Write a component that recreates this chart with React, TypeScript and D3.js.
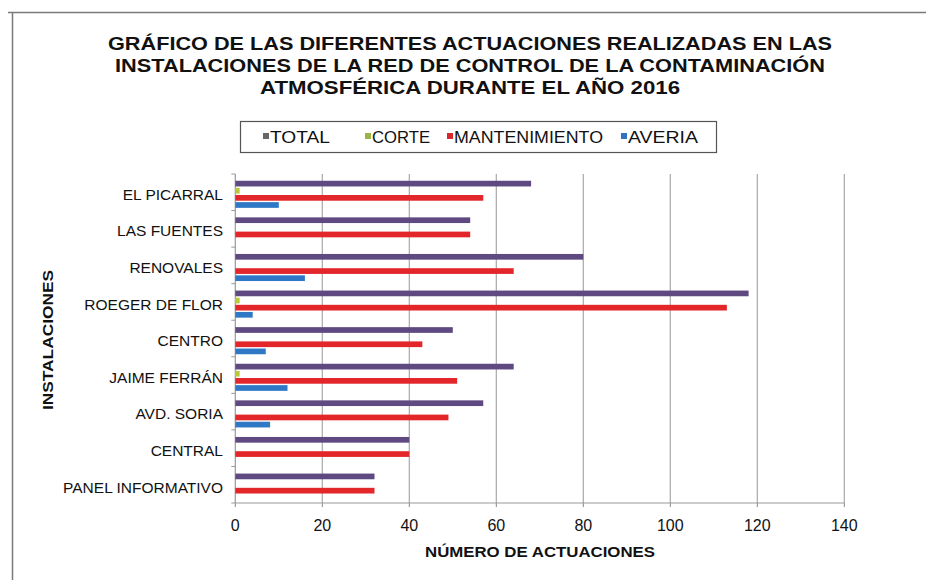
import React from "react";
import * as d3 from "d3";

const categories = [
  "EL PICARRAL",
  "LAS FUENTES",
  "RENOVALES",
  "ROEGER DE FLOR",
  "CENTRO",
  "JAIME FERRÁN",
  "AVD. SORIA",
  "CENTRAL",
  "PANEL INFORMATIVO",
];
const seriesNames = ["TOTAL", "CORTE", "MANTENIMIENTO", "AVERIA"];
const total = [68, 54, 80, 118, 50, 64, 57, 40, 32];
const corte = [1, 0, 0, 1, 0, 1, 0, 0, 0];
const mantenimiento = [57, 54, 64, 113, 43, 51, 49, 40, 32];
const averia = [10, 0, 16, 4, 7, 12, 8, 0, 0];
const xTicks = [0, 20, 40, 60, 80, 100, 120, 140];
const titleLines = [
  "GRÁFICO DE LAS DIFERENTES ACTUACIONES REALIZADAS EN LAS",
  "INSTALACIONES  DE LA RED DE CONTROL DE LA CONTAMINACIÓN",
  "ATMOSFÉRICA DURANTE EL AÑO 2016",
];
const titleWidths = [724, 710, 420];

const seriesValues = [total, corte, mantenimiento, averia];
const barColors = ["#5e4a80", "#b8c93a", "#e3262a", "#2e78c6"];
const legendColors = ["#666666", "#9bb347", "#d9262c", "#2e74c0"];

export default function App() {
  const W = 926;
  const H = 580;
  const plotTop = 174;
  const plotBottom = 503;
  const x = d3.scaleLinear().domain([0, 140]).range([235.3, 844.3]);
  const y = d3
    .scaleBand<string>()
    .domain(categories)
    .range([176, 505.4])
    .paddingInner(0.26)
    .paddingOuter(0.13);
  const ySub = d3
    .scaleBand<string>()
    .domain(seriesNames)
    .range([0, y.bandwidth()])
    .paddingInner(0.2);
  const font = "'Liberation Sans', Arial, sans-serif";
  const step = (plotBottom - plotTop) / categories.length;
  const legendItems = [
    { x: 270, w: 60 },
    { x: 372, w: 58 },
    { x: 454, w: 149 },
    { x: 628, w: 70 },
  ];

  return (
    <svg
      width={W}
      height={H}
      style={{ position: "absolute", left: 0, top: 0, background: "#fff" }}
      fontFamily={font}
    >
      <rect x={0} y={0} width={W} height={H} fill="#ffffff" />
      {/* frame */}
      <line x1={8} x2={W} y1={12.5} y2={12.5} stroke="#7a7a7a" strokeWidth={1.5} />
      <line x1={12.5} x2={12.5} y1={12} y2={H} stroke="#7a7a7a" strokeWidth={1.5} />

      {/* title */}
      {titleLines.map((t, i) => (
        <text
          key={i}
          x={470}
          y={50 + i * 22}
          textAnchor="middle"
          fontSize={18}
          fontWeight="bold"
          fill="#111"
          textLength={titleWidths[i]}
          lengthAdjust="spacingAndGlyphs"
        >
          {t}
        </text>
      ))}

      {/* legend */}
      <rect x={240.5} y={121.5} width={476} height={31} fill="#fff" stroke="#555" strokeWidth={1.2} />
      {seriesNames.map((s, i) => (
        <g key={s}>
          <rect x={legendItems[i].x - 7} y={133} width={6} height={6} fill={legendColors[i]} />
          <text
            x={legendItems[i].x}
            y={142.5}
            fontSize={16}
            fill="#111"
            textLength={legendItems[i].w}
            lengthAdjust="spacingAndGlyphs"
          >
            {s}
          </text>
        </g>
      ))}

      {/* grid lines */}
      {xTicks.map((t) => (
        <g key={t}>
          {t > 0 && (
            <line x1={x(t)} x2={x(t)} y1={plotTop} y2={plotBottom} stroke="#a8a8a8" strokeWidth={1.2} />
          )}
          <line x1={x(t)} x2={x(t)} y1={plotBottom} y2={plotBottom + 4} stroke="#888" />
          <text x={x(t)} y={531} textAnchor="middle" fontSize={16} fill="#111">
            {t}
          </text>
        </g>
      ))}
      {/* axes */}
      <line x1={x(0)} x2={x(140)} y1={plotBottom} y2={plotBottom} stroke="#999" strokeWidth={1.2} />
      <line x1={x(0)} x2={x(0)} y1={plotTop} y2={plotBottom} stroke="#999" strokeWidth={1.2} />
      {d3.range(categories.length + 1).map((i) => (
        <line
          key={i}
          x1={x(0) - 4}
          x2={x(0)}
          y1={plotTop + i * step}
          y2={plotTop + i * step}
          stroke="#999"
        />
      ))}

      {/* bars */}
      {categories.map((c, ci) => (
        <g key={c}>
          {seriesNames.map((s, si) => {
            const v = seriesValues[si][ci];
            if (!v) return null;
            return (
              <rect
                key={s}
                x={x(0)}
                y={(y(c) as number) + (ySub(s) as number)}
                width={x(v) - x(0)}
                height={ySub.bandwidth()}
                fill={barColors[si]}
              />
            );
          })}
          <text
            x={223}
            y={(y(c) as number) + y.bandwidth() / 2 + 5.5}
            textAnchor="end"
            fontSize={15.5}
            fill="#111"
          >
            {c}
          </text>
        </g>
      ))}

      {/* axis titles */}
      <text
        x={540}
        y={557}
        textAnchor="middle"
        fontSize={15.5}
        fontWeight="bold"
        fill="#111"
        textLength={230}
        lengthAdjust="spacingAndGlyphs"
      >
        NÚMERO DE ACTUACIONES
      </text>
      <text
        transform="translate(53,340) rotate(-90)"
        textAnchor="middle"
        fontSize={15.5}
        fontWeight="bold"
        fill="#111"
        textLength={140}
        lengthAdjust="spacingAndGlyphs"
      >
        INSTALACIONES
      </text>
    </svg>
  );
}
